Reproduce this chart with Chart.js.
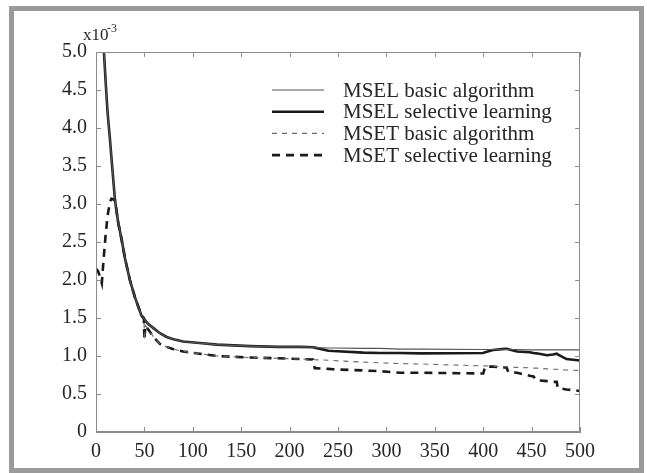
<!DOCTYPE html>
<html>
<head>
<meta charset="utf-8">
<script src="https://cdn.jsdelivr.net/npm/chart.js@4.4.1/dist/chart.umd.min.js"></script>
<style>
  html, body { margin: 0; padding: 0; background: #fff; }
  #wrap { position: relative; width: 647px; height: 473px; }
  #frame { position: absolute; left: 9px; top: 6px; width: 625px; height: 457px; border: 5px solid #9a9a9a; }
  canvas { position: absolute; left: 0; top: 0; }
</style>
</head>
<body>
<div id="wrap">
  <div id="frame"></div>
  <canvas id="mseChart" width="647" height="473"></canvas>
</div>
<script>
// epochs shared by all four curves (close x values give the steps)
const epochs = [0, 2, 4, 6, 8, 10, 12, 14.5, 16, 19.6, 23, 26.5, 30, 35, 40, 47, 49.5, 50, 51, 54, 60, 66, 73, 80, 90, 107, 125, 159, 188, 211, 224, 226, 240, 245, 276, 293, 314, 335, 400, 402, 410, 420, 424, 426, 435, 448, 452, 455, 466, 472, 476, 477, 486, 500];

const mselBasic = [9.0, 8.0, 6.9, 5.8, 5.05, 4.6, 4.2, 3.84, 3.6, 3.05, 2.75, 2.53, 2.28, 2.0, 1.78, 1.53, 1.49, 1.48, 1.465, 1.42, 1.36, 1.30, 1.25, 1.22, 1.19, 1.17, 1.15, 1.13, 1.12, 1.12, 1.115, 1.11, 1.105, 1.105, 1.10, 1.10, 1.09, 1.09, 1.085, 1.085, 1.085, 1.085, 1.085, 1.085, 1.085, 1.08, 1.08, 1.08, 1.08, 1.08, 1.08, 1.08, 1.08, 1.08];

const mselSelective = [9.0, 8.0, 6.9, 5.8, 5.05, 4.6, 4.2, 3.84, 3.6, 3.05, 2.75, 2.53, 2.28, 2.0, 1.78, 1.53, 1.49, 1.48, 1.465, 1.42, 1.36, 1.30, 1.25, 1.22, 1.19, 1.17, 1.15, 1.13, 1.12, 1.12, 1.115, 1.11, 1.07, 1.065, 1.045, 1.04, 1.04, 1.035, 1.04, 1.05, 1.08, 1.09, 1.095, 1.09, 1.06, 1.05, 1.04, 1.035, 1.01, 1.02, 1.03, 1.02, 0.96, 0.94];

const msetBasic = [9.0, 8.0, 6.9, 5.8, 5.05, 4.6, 4.2, 3.84, 3.6, 3.05, 2.75, 2.53, 2.28, 2.0, 1.78, 1.53, 1.50, 1.21, 1.40, 1.35, 1.24, 1.16, 1.12, 1.09, 1.06, 1.03, 1.00, 0.98, 0.97, 0.96, 0.955, 0.95, 0.945, 0.94, 0.92, 0.91, 0.90, 0.895, 0.87, 0.87, 0.865, 0.86, 0.86, 0.855, 0.85, 0.845, 0.84, 0.84, 0.83, 0.825, 0.825, 0.82, 0.815, 0.81];

const msetSelective = [2.15, 2.12, 2.05, 1.96, 2.3, 2.6, 2.85, 3.03, 3.07, 3.05, 2.75, 2.53, 2.28, 2.0, 1.78, 1.53, 1.50, 1.21, 1.40, 1.35, 1.24, 1.16, 1.12, 1.09, 1.06, 1.03, 1.00, 0.98, 0.97, 0.96, 0.955, 0.84, 0.83, 0.825, 0.81, 0.80, 0.78, 0.78, 0.77, 0.86, 0.86, 0.85, 0.85, 0.79, 0.78, 0.74, 0.73, 0.68, 0.67, 0.66, 0.66, 0.58, 0.56, 0.54];

const seriesNames = ['MSEL basic algorithm', 'MSEL selective learning', 'MSET basic algorithm', 'MSET selective learning'];
const xTicks = [0, 50, 100, 150, 200, 250, 300, 350, 400, 450, 500];
const yTicks = [0, 0.5, 1.0, 1.5, 2.0, 2.5, 3.0, 3.5, 4.0, 4.5, 5.0];

const axisGray = '#8c8c8c';
const textColor = '#262626';
const serif = '"Liberation Serif", "Times New Roman", serif';

function toPoints(vals) {
    return epochs.map(function(x, i) { return {x: x, y: vals[i]}; });
}

const styles = [
    {color: '#555555', width: 1.1, dash: []},
    {color: '#1a1a1a', width: 2.6, dash: []},
    {color: '#6a6a6a', width: 1.1, dash: [5, 5]},
    {color: '#1a1a1a', width: 2.6, dash: [8, 6]}
];

// box, inward ticks, x10^-3 and the legend drawn on top of the plot
const decorations = {
    id: 'decorations',
    afterDraw(chart) {
        const ctx = chart.ctx;
        const a = chart.chartArea;
        const xs = chart.scales.x, ys = chart.scales.y;
        ctx.save();
        ctx.strokeStyle = axisGray;
        ctx.lineWidth = 1;
        ctx.strokeRect(a.left + 0.5, a.top + 0.5, a.right - a.left - 1, a.bottom - a.top - 1);
        ctx.beginPath();
        xTicks.forEach(function(v) {
            const px = Math.round(xs.getPixelForValue(v)) + 0.5;
            ctx.moveTo(px, a.bottom); ctx.lineTo(px, a.bottom - 5);
            ctx.moveTo(px, a.top); ctx.lineTo(px, a.top + 5);
        });
        yTicks.forEach(function(v) {
            const py = Math.round(ys.getPixelForValue(v)) + 0.5;
            ctx.moveTo(a.left, py); ctx.lineTo(a.left + 5, py);
            ctx.moveTo(a.right, py); ctx.lineTo(a.right - 5, py);
        });
        ctx.stroke();

        // exponent label
        ctx.fillStyle = textColor;
        ctx.textBaseline = 'alphabetic';
        ctx.textAlign = 'left';
        ctx.font = '17px ' + serif;
        ctx.fillText('x10', a.left - 13, a.top - 12);
        ctx.font = '12px ' + serif;
        ctx.fillText('-3', a.left + 11, a.top - 20);

        // legend
        const lx0 = a.left + 176, lx1 = a.left + 228, tx = a.left + 247;
        ctx.font = '21px ' + serif;
        ctx.textBaseline = 'middle';
        seriesNames.forEach(function(name, i) {
            const y = a.top + 38 + i * 21.7;
            const s = styles[i];
            ctx.strokeStyle = s.color;
            ctx.lineWidth = s.width;
            ctx.setLineDash(s.dash);
            ctx.beginPath();
            ctx.moveTo(lx0, y); ctx.lineTo(lx1, y);
            ctx.stroke();
            ctx.setLineDash([]);
            ctx.fillStyle = textColor;
            ctx.fillText(name, tx, y + 1);
        });
        ctx.restore();
    }
};

const series = [mselBasic, mselSelective, msetBasic, msetSelective];

new Chart(document.getElementById('mseChart'), {
    type: 'line',
    data: {
        datasets: series.map(function(vals, i) {
            return {
                label: seriesNames[i],
                data: toPoints(vals),
                borderColor: styles[i].color,
                borderWidth: styles[i].width,
                borderDash: styles[i].dash,
                pointRadius: 0,
                tension: 0,
                fill: false
            };
        })
    },
    options: {
        responsive: false,
        animation: false,
        events: [],
        layout: { padding: { left: 0, top: 52, right: 67, bottom: 0 } },
        plugins: { legend: { display: false }, tooltip: { enabled: false } },
        scales: {
            x: {
                type: 'linear',
                min: 0, max: 500,
                afterFit: function(scale) { scale.height = 41; },
                afterBuildTicks: function(scale) { scale.ticks = xTicks.map(function(v) { return {value: v}; }); },
                grid: { display: false, drawTicks: false },
                border: { display: true, color: axisGray, width: 1 },
                ticks: { color: textColor, padding: 8, maxRotation: 0, font: { family: serif, size: 20 } }
            },
            y: {
                type: 'linear',
                min: 0, max: 5,
                afterFit: function(scale) { scale.width = 96; },
                afterBuildTicks: function(scale) { scale.ticks = yTicks.map(function(v) { return {value: v}; }); },
                grid: { display: false, drawTicks: false },
                border: { display: true, color: axisGray, width: 1 },
                ticks: {
                    color: textColor, padding: 9, font: { family: serif, size: 20 },
                    callback: function(v) { return v === 0 ? '0' : v.toFixed(1); }
                }
            }
        }
    },
    plugins: [decorations]
});
</script>
</body>
</html>
